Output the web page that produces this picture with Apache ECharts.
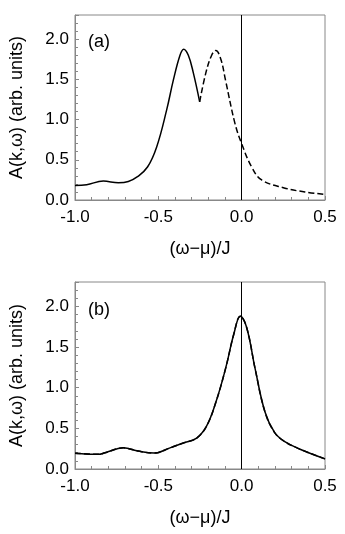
<!DOCTYPE html>
<html>
<head>
<meta charset="utf-8">
<script src="https://cdn.jsdelivr.net/npm/echarts@6/dist/echarts.min.js"></script>
<style>
  html, body { margin: 0; padding: 0; background: #fff; }
  #chart { width: 345px; height: 534px; }
</style>
</head>
<body>
<div id="chart"></div>
<script>
// panel (a): solid up to the cusp, dashed after it
const aSolidX = [-1.0, -0.93, -0.83, -0.74, -0.68, -0.625, -0.565, -0.51, -0.45, -0.41, -0.37, -0.348, -0.32, -0.29, -0.252]
const aSolidY = [0.18, 0.19, 0.235, 0.215, 0.23, 0.29, 0.41, 0.66, 1.12, 1.49, 1.80, 1.875, 1.80, 1.58, 1.22]
const aDashX = [-0.252, -0.215, -0.18, -0.155, -0.125, -0.097, -0.04, 0.0, 0.06, 0.12, 0.255, 0.38, 0.5]
const aDashY = [1.22, 1.58, 1.80, 1.86, 1.75, 1.49, 0.95, 0.70, 0.41, 0.25, 0.15, 0.10, 0.07]
// panel (b): both curves almost on top of each other
const bX = [-1.0, -0.857, -0.82, -0.71, -0.62, -0.525, -0.43, -0.35, -0.27, -0.21, -0.155, -0.096, -0.047, -0.008, 0.03, 0.08, 0.14, 0.197, 0.256, 0.354, 0.5]
const bSolidY = [0.195, 0.18, 0.20, 0.26, 0.22, 0.196, 0.26, 0.32, 0.38, 0.53, 0.82, 1.24, 1.66, 1.88, 1.74, 1.24, 0.70, 0.45, 0.34, 0.24, 0.125]
const bDashY = bSolidY
const xTicks = [-1.0, -0.5, 0.0, 0.5]
const yTicks = [0.0, 0.5, 1.0, 1.5, 2.0]

const pairs = (xs, ys) => xs.map((x, i) => [x, ys[i]])
const font = 'Liberation Sans, Arial, sans-serif'

function xAxisOf(idx) {
  return {
    type: 'value', gridIndex: idx, min: xTicks[0], max: xTicks[xTicks.length - 1], interval: 0.5,
    name: '(ω−μ)/J', nameLocation: 'middle', nameGap: 40,
    nameTextStyle: { fontFamily: font, fontSize: 18, color: '#000' },
    axisLine: { onZero: false, lineStyle: { color: '#888', width: 1 } },
    axisTick: { inside: true, length: 4, lineStyle: { color: '#888' } },
    minorTick: { show: true, splitNumber: 5, length: 3, lineStyle: { color: '#888' } },
    splitLine: { show: false },
    axisLabel: { fontFamily: font, fontSize: 17, color: '#000', margin: 9,
      formatter: v => v.toFixed(1) }
  }
}
function yAxisOf(idx) {
  return {
    type: 'value', gridIndex: idx, min: yTicks[0], max: 2.3, interval: 0.5,
    name: 'A(k,ω) (arb. units)', nameLocation: 'middle', nameGap: 49, nameRotate: 90,
    nameTextStyle: { fontFamily: font, fontSize: 18, color: '#000' },
    axisLine: { onZero: false, lineStyle: { color: '#888', width: 1 } },
    axisTick: { inside: true, length: 4, lineStyle: { color: '#888' } },
    minorTick: { show: true, splitNumber: 5, length: 3, lineStyle: { color: '#888' } },
    splitLine: { show: false },
    axisLabel: { fontFamily: font, fontSize: 17, color: '#000', margin: 6, showMaxLabel: false,
      formatter: v => v.toFixed(1) }
  }
}
function curve(idx, data, dashed) {
  return {
    type: 'line', xAxisIndex: idx, yAxisIndex: idx, data: data, smooth: 0.4,
    symbol: 'none', silent: true,
    lineStyle: { color: '#000', width: 1.5, type: dashed ? [6, 3] : 'solid' }
  }
}
const zeroLine = {
  silent: true, symbol: 'none', label: { show: false },
  lineStyle: { color: '#000', width: 1, type: 'solid' },
  data: [{ xAxis: 0 }]
}

const chart = echarts.init(document.getElementById('chart'))
const s1 = curve(0, pairs(aSolidX, aSolidY), false)
s1.markLine = zeroLine
const s3 = curve(1, pairs(bX, bSolidY), false)
s3.markLine = zeroLine
chart.setOption({
  animation: false,
  grid: [
    { left: 69, top: 15, width: 256, height: 185, show: true, borderColor: '#888', borderWidth: 1 },
    { left: 69, top: 282, width: 256, height: 187, show: true, borderColor: '#888', borderWidth: 1 }
  ],
  xAxis: [xAxisOf(0), xAxisOf(1)],
  yAxis: [yAxisOf(0), yAxisOf(1)],
  graphic: [
    { type: 'text', left: 88, top: 33, style: { text: '(a)', font: '18px ' + font, fill: '#000' } },
    { type: 'text', left: 88, top: 301, style: { text: '(b)', font: '18px ' + font, fill: '#000' } }
  ],
  series: [
    s1,
    curve(0, pairs(aDashX, aDashY), true),
    s3,
    curve(1, pairs(bX, bDashY), true)
  ]
})
</script>
</body>
</html>
